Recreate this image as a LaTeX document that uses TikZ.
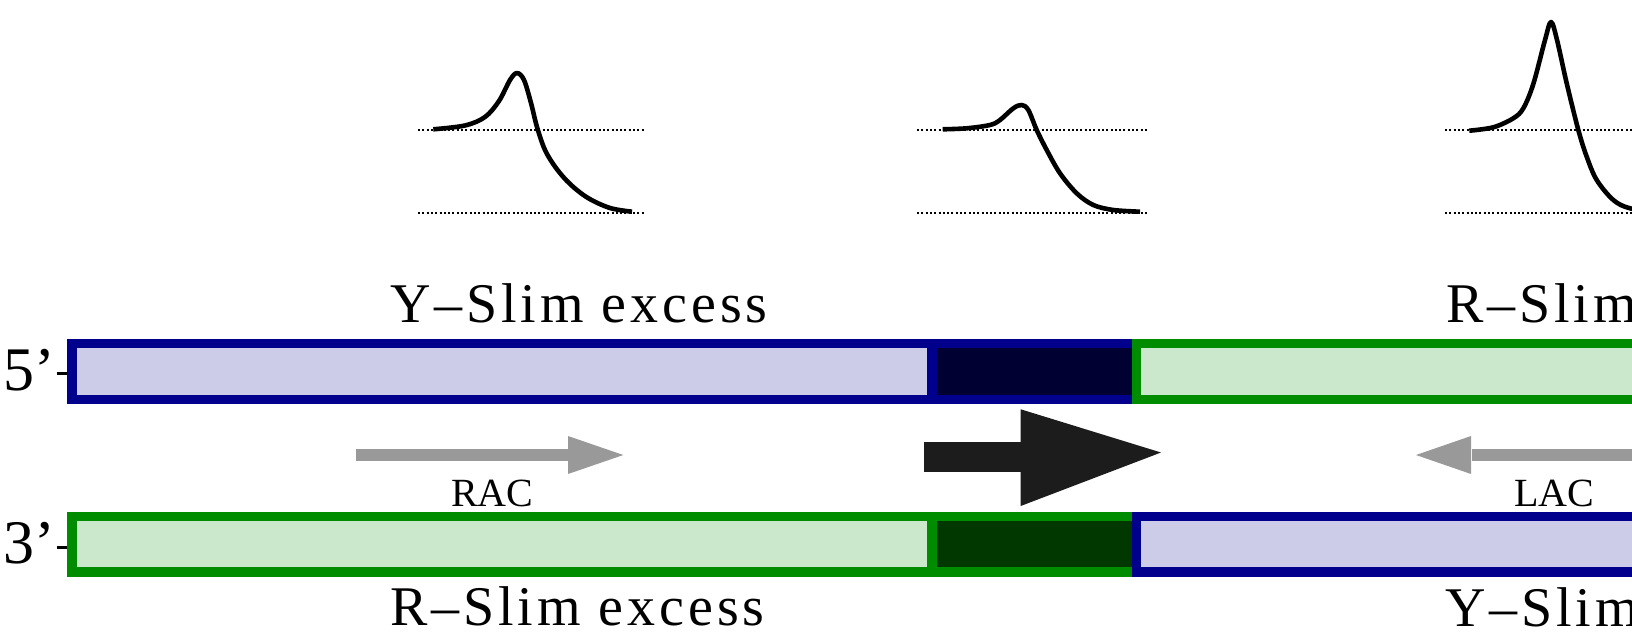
\documentclass[tikz,border=0pt]{standalone}
\usepackage{fontspec}
\setmainfont{Liberation Serif}
\newfontfamily\slimfont[LetterSpace=7]{Liberation Serif}
\definecolor{blueB}{RGB}{0,0,140}
\definecolor{blueL}{RGB}{204,204,232}
\definecolor{blueD}{RGB}{0,0,51}
\definecolor{greenB}{RGB}{0,140,0}
\definecolor{greenL}{RGB}{204,232,204}
\definecolor{greenD}{RGB}{0,56,0}
\definecolor{arrgray}{RGB}{153,153,153}
\definecolor{arrblack}{RGB}{28,28,28}
\begin{document}
\begin{tikzpicture}[x=1pt,y=-1pt,
  strand/.style={line width=9.3pt},
  curve/.style={line width=4.6pt, line join=round},
  guide/.style={line width=2pt, dash pattern=on 2pt off 2.3pt},
  tick/.style={line width=3pt},
  biglabel/.style={font=\slimfont\fontsize{56}{60}\selectfont, inner sep=0pt, anchor=base west},
  endlabel/.style={font=\fontsize{62}{66}\selectfont, inner sep=0pt, anchor=base west},
  small/.style={font=\fontsize{40}{44}\selectfont, inner sep=0pt, anchor=base west}]
\useasboundingbox (0,0) rectangle (1632,639);
\clip (0,0) rectangle (1632,639);

% guide lines
\foreach \a/\b in {418/645, 917/1148, 1445/1700}{
  \draw[guide] (\a,130) -- (\b,130);
  \draw[guide] (\a,212.7) -- (\b,212.7);
}
% curves
\draw[curve] plot[smooth, tension=0.55] coordinates {(433.3,129.3) (465,125.5) (485,117) (499,101) (510,80) (517,73) (524,80) (531,103) (537,127) (545,150) (556,168) (570,184) (588,198) (610,208) (632,211.7)};
\draw[curve] plot[smooth, tension=0.55] coordinates {(942.7,129.3) (966.7,128.3) (990,125) (1000,120) (1013.3,108.3) (1021.7,105) (1028.3,110) (1036.7,130) (1046.7,150) (1060,173.3) (1076.7,193.3) (1093.3,205) (1113.3,210) (1140,211.7)};
\draw[curve] plot[smooth, tension=0.55] coordinates {(1469.3,130.7) (1493.3,127.3) (1513.3,118.3) (1523.3,108.3) (1533.3,84) (1545,40) (1551,22) (1557,40) (1566.7,83.3) (1578.3,130) (1586.7,156.7) (1596.7,180) (1613.3,200) (1630,208.3) (1660,212.5)};

% labels above/below
\node[biglabel] (ytop) at (390,322) {Y–Slim excess};
\node[biglabel] (rtop) at (1446,322) {R–Slim excess};
\node[biglabel] (rbot) at (390,625) {R–Slim excess};
\node[biglabel] (ybot) at (1445,626) {Y–Slim excess};

% strand ends
\node[endlabel] (five) at (3,390) {5’};
\node[endlabel] (three) at (3,563) {3’};
\draw[tick] (56.7,373) -- (67.3,373);
\draw[tick] (56.7,547) -- (67.3,547);

% top strand
\draw[strand, draw=blueB, fill=blueL] (72,343.7) rectangle (932,399.5);
\draw[strand, draw=blueB, fill=blueD] (932,343.7) rectangle (1136.7,399.5);
\draw[strand, draw=greenB, fill=greenL] (1136.7,343.7) rectangle (1720,399.5);
% bottom strand
\draw[strand, draw=greenB, fill=greenL] (72,516.5) rectangle (932,572);
\draw[strand, draw=greenB, fill=greenD] (932,516.5) rectangle (1136.7,572);
\draw[strand, draw=blueB, fill=blueL] (1136.7,516.5) rectangle (1720,572);

% RAC arrow
\fill[arrgray] (355.7,449.3) rectangle (568,461);
\fill[arrgray] (568,436) -- (623.3,455) -- (568,474) -- cycle;
\node[small] (rac) at (451,506) {RAC};
% LAC arrow
\fill[arrgray] (1472.3,449.3) rectangle (1720,461);
\fill[arrgray] (1471,436) -- (1416,455) -- (1471,474) -- cycle;
\node[small] (lac) at (1514,506) {LAC};
% big arrow
\fill[arrblack] (924.3,442.3) rectangle (1020.7,472.3);
\fill[arrblack] (1020.7,409.3) -- (1161,452.5) -- (1020.7,506) -- cycle;
\end{tikzpicture}
\end{document}
